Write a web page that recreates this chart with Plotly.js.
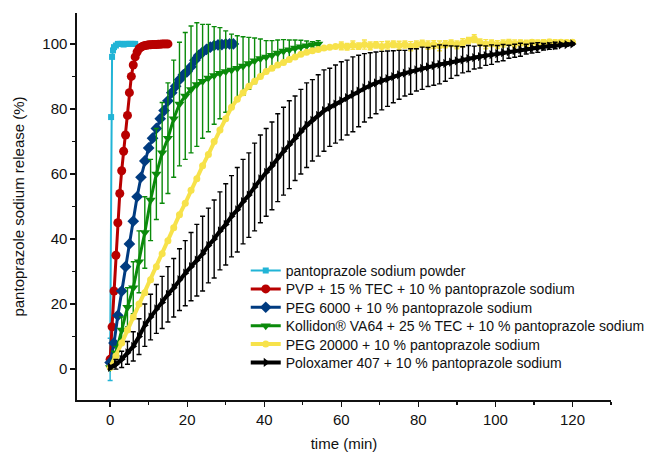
<!DOCTYPE html>
<html>
<head>
<meta charset="utf-8">
<script src="https://cdn.plot.ly/plotly-3.0.1.min.js"></script>
<style>html,body{margin:0;padding:0;background:#fff;}#chart{width:649px;height:457px;}</style>
</head>
<body>
<div id="chart"></div>
<script>
// ---------- data ----------
var seriesNames = [
  "pantoprazole sodium powder",
  "PVP + 15 % TEC + 10 % pantoprazole sodium",
  "PEG 6000 + 10 % pantoprazole sodium",
  "Kollidon\u00AE VA64 + 25 % TEC + 10 % pantoprazole sodium",
  "PEG 20000 + 10 % pantoprazole sodium",
  "Poloxamer 407 + 10 % pantoprazole sodium"
];

var powderT = [0, 0.25, 0.5, 0.75, 1, 1.5, 2, 2.5, 3, 3.5, 4, 4.5, 5, 5.5, 6, 6.5];
var powderV = [3, 77.5, 96, 98, 99, 99.5, 100, 100, 100, 99.8, 100, 100, 100, 100, 100, 100];
var powderE = [6.5, 0, 0, 0, 0, 0, 0, 0, 0, 0, 0, 0, 0, 0, 0, 0];

var pvpT = [0, 0.5, 1, 1.5, 2, 2.5, 3, 3.5, 4, 4.5, 5, 5.5, 6, 6.5, 7, 7.5, 8, 8.5, 9, 9.5, 10, 10.5, 11, 11.5, 12, 12.5, 13, 13.5, 14, 14.5, 15];
var pvpV = [3, 13, 24, 35, 45, 54, 61, 67, 72, 78, 85, 90, 93.5, 96, 97.5, 98.5, 99, 99.3, 99.5, 99.6, 99.7, 99.7, 99.8, 99.8, 99.8, 99.9, 99.9, 100, 100, 100, 100];

var peg6T = [0, 1, 2, 3, 4, 5, 6, 7, 8, 9, 10, 11, 12, 13, 14, 15, 16, 17, 18, 19, 20, 21, 22, 23, 24, 25, 26, 27, 28, 29, 30, 31, 32];
var peg6V = [2, 8, 16.5, 24, 31.5, 38.5, 45.5, 53, 59, 64, 68, 71, 74, 77, 79.5, 82.5, 85, 87, 89, 90.5, 91.5, 93, 95, 96.5, 97.5, 98.3, 99, 99.5, 99.7, 99.8, 100, 100, 100];

var kolT = [0, 1.5, 3, 4.5, 6, 7.5, 9, 10.5, 12, 13.5, 15, 16.5, 18, 19.5, 21, 22.5, 24, 25.5, 27, 28.5, 30, 31.5, 33, 34.5, 36, 37.5, 39, 40.5, 42, 43.5, 45, 46.5, 48, 49.5, 51, 52.5, 54];
var kolV = [0.5, 5, 12, 19, 25, 33, 42, 52, 60, 66.5, 71, 77, 81.5, 84, 86, 87.5, 88.5, 89.5, 90.3, 91, 91.5, 92, 92.5, 93.2, 94, 94.8, 95.5, 96, 96.5, 97.2, 97.8, 98.2, 98.7, 99.1, 99.4, 99.7, 100];
var kolE = [0.5, 2, 4, 6, 8, 9.5, 11, 12.5, 14, 15.5, 17, 18, 19, 19.5, 19.5, 19, 17.5, 16.5, 15, 14, 12.5, 11, 10, 9, 8, 7, 6, 5, 4.5, 4, 3.5, 3, 2.5, 2, 1.5, 1, 1];

var longT = [0, 1.5, 3, 4.5, 6, 7.5, 9, 10.5, 12, 13.5, 15, 16.5, 18, 19.5, 21, 22.5, 24, 25.5, 27, 28.5,
  30, 31.5, 33, 34.5, 36, 37.5, 39, 40.5, 42, 43.5, 45, 46.5, 48, 49.5, 51, 52.5, 54, 55.5, 57, 58.5,
  60, 61.5, 63, 64.5, 66, 67.5, 69, 70.5, 72, 73.5, 75, 76.5, 78, 79.5, 81, 82.5, 84, 85.5, 87, 88.5,
  90, 91.5, 93, 94.5, 96, 97.5, 99, 100.5, 102, 103.5, 105, 106.5, 108, 109.5, 111, 112.5, 114, 115.5, 117, 118.5, 120];

var peg20V = [0.5, 4, 8, 12, 16, 20, 23.5, 27.5, 31.5, 35.5, 39.5, 43.5, 47.5, 51, 55, 58.5, 62.5, 66, 70, 73.5,
  77, 80.5, 83, 85, 87, 88.5, 90, 91.5, 92.5, 93.5, 94.3, 95.2, 96, 96.8, 97.4, 97.9, 98.3, 98.7, 99, 99.2,
  99.4, 99.1, 99.6, 99.3, 99.8, 99.4, 99.7, 99.2, 99.6, 99.9, 99.5, 99.8, 99.3, 99.7, 100.1, 99.6, 99.8, 99.4, 99.9, 100.2,
  99.7, 100.3, 101, 101.6, 100.4, 99.9, 100.2, 99.8, 100.1, 100.4, 100, 100.3, 100.1, 100.5, 100.2, 100.4, 100.6, 100.3, 100.5, 100.4, 100.5];
var peg20E = [0, 0, 0, 0, 0, 0, 0, 0, 0, 0, 0, 0, 0, 0, 0, 0, 0, 0, 0, 0,
  0, 0, 0, 0, 0, 0, 0, 0, 0, 0, 0, 0, 0, 0, 0, 0, 0, 0, 0, 0,
  1.2, 1, 1.3, 1, 1.4, 1.2, 1, 1.5, 1.2, 1, 1.3, 1.1, 1.4, 1.2, 1, 1.3, 1.2, 1.5, 1.1, 1,
  1.2, 1.3, 1, 1.2, 1.1, 1.4, 1, 1.2, 1.1, 1, 1.2, 0.9, 1, 0.8, 1, 0.9, 0.8, 1, 0.8, 0.7, 0.6];

var poloxV = [0.5, 1.5, 3, 5, 7, 10, 13.5, 16, 18.5, 20.5, 23, 25, 27.5, 29.5, 31.5, 33.5, 35.5, 38, 40, 42.5,
  44.5, 47, 49, 51.5, 53.5, 56, 58.5, 60.5, 62.5, 65, 67, 69, 71, 73, 75, 76.5, 78, 79.5, 80.5, 81.5,
  82.5, 83.5, 84.5, 85.5, 86.5, 87.3, 88, 88.7, 89.3, 89.9, 90.5, 91, 91.5, 92, 92.5, 92.9, 93.3, 93.7, 94, 94.4,
  94.8, 95.1, 95.5, 95.8, 96.1, 96.4, 96.7, 97, 97.3, 97.6, 97.9, 98.2, 98.4, 98.7, 98.9, 99.1, 99.3, 99.5, 99.7, 99.8, 100];
var poloxE = [0.5, 1.5, 2.5, 3.5, 4.5, 5.5, 6.5, 7, 7.5, 8, 8.5, 9, 9.5, 10, 10.5, 11, 11.5, 11.5, 12, 12,
  12.5, 12.5, 13, 13, 13, 13.5, 13.5, 13.5, 13.5, 13.5, 13.5, 13.5, 13, 13, 13, 12.5, 12.5, 12.5, 12, 12,
  12, 11.5, 11.5, 11, 10.5, 10, 9.5, 9, 8.5, 8, 7.5, 7, 7, 6.5, 6.5, 6, 6, 6, 5.5, 5,
  4.5, 4, 4, 3.5, 3.5, 3, 3, 2.5, 2.5, 2, 2, 2, 1.5, 1.5, 1.5, 1, 1, 1, 0.5, 0.5, 0.3];

var xTickVals = [0, 20, 40, 60, 80, 100, 120];
var yTickVals = [0, 20, 40, 60, 80, 100];

// ---------- styles ----------
var colors = ["#21B4D6", "#B80000", "#003B80", "#0A8A0A", "#F7E24A", "#000000"];
var FONT = "Liberation Sans, Arial, sans-serif";

function tr(i, x, y, sym, size, lw, err) {
  var t = {
    type: "scatter", mode: "lines+markers", name: seriesNames[i],
    x: x, y: y,
    line: {color: colors[i], width: lw},
    marker: {symbol: sym, size: size, color: colors[i], line: {width: 0}}
  };
  if (err) {
    t.error_y = {type: "data", array: err, visible: true, color: colors[i], thickness: 1.4, width: 2.5};
  }
  return t;
}

var data = [
  tr(0, powderT, powderV, "square", 6, 2, powderE),
  tr(1, pvpT, pvpV, "circle", 9, 3),
  tr(2, peg6T, peg6V, "diamond", 9, 3),
  tr(3, kolT, kolV, "triangle-down", 9, 3, kolE),
  tr(4, longT, peg20V, "circle", 7, 4, peg20E),
  tr(5, longT, poloxV, "triangle-right", 8, 4, poloxE)
];

var axisCommon = {
  showline: true, linecolor: "#111", linewidth: 1.6,
  ticks: "outside", ticklen: 5, tickwidth: 1.3, tickcolor: "#111",
  showgrid: false, zeroline: false, mirror: false,
  tickfont: {family: FONT, size: 15, color: "#111"}
};

var layout = {
  width: 649, height: 457,
  margin: {l: 77, r: 38, t: 13, b: 57, autoexpand: false},
  paper_bgcolor: "#fff", plot_bgcolor: "#fff",
  font: {family: FONT, size: 15, color: "#111"},
  showlegend: true,
  legend: {
    x: 0.316, y: 0.375, xanchor: "left", yanchor: "top",
    bgcolor: "rgba(0,0,0,0)", borderwidth: 0,
    font: {family: FONT, size: 14, color: "#111"},
    tracegroupgap: 0
  },
  xaxis: Object.assign({}, axisCommon, {
    range: [-8.6, 130], tickvals: xTickVals, ticktext: xTickVals.map(String),
    minor: {dtick: 10, tick0: 0, ticks: "outside", ticklen: 3, tickcolor: "#111", tickwidth: 1.3},
    title: {text: "time (min)", font: {family: FONT, size: 15, color: "#111"}, standoff: 12}
  }),
  yaxis: Object.assign({}, axisCommon, {
    range: [-9.5, 109.5], tickvals: yTickVals, ticktext: yTickVals.map(String),
    minor: {dtick: 10, tick0: 0, ticks: "outside", ticklen: 3, tickcolor: "#111", tickwidth: 1.3},
    title: {text: "pantoprazole sodium release (%)", font: {family: FONT, size: 15, color: "#111"}, standoff: 14}
  })
};

Plotly.newPlot("chart", data, layout, {displayModeBar: false, staticPlot: true}).then(function (gd) {
  // tighten legend row spacing to match the reference
  var items = gd.querySelectorAll(".legend .traces");
  if (!items.length) return;
  var m = /translate\(\s*([-\d.]+)[ ,]+([-\d.]+)\s*\)/.exec(items[0].getAttribute("transform") || "");
  if (!m) return;
  var x0 = parseFloat(m[1]), y0 = parseFloat(m[2]);
  for (var k = 0; k < items.length; k++) {
    items[k].setAttribute("transform", "translate(" + x0 + "," + (y0 + k * 18.4) + ")");
  }
});
</script>
</body>
</html>
